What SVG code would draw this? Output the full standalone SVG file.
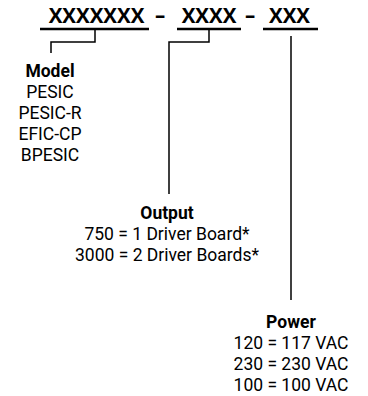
<svg xmlns="http://www.w3.org/2000/svg" width="368" height="396" viewBox="0 0 368 396">
<style>
.code{font-family:"Open Sans","Noto Sans",sans-serif;font-weight:bold;font-size:20.5px;fill:#000;text-anchor:middle}
.ul{stroke:#000;stroke-width:2.5;fill:none}
.conn{stroke:#000;stroke-width:1.5;fill:none}
.lbl{font-family:Roboto,"Liberation Sans",sans-serif;font-size:17.5px;fill:#000;text-anchor:middle}
.ttl{font-weight:bold}
</style>
<rect width="368" height="396" fill="#fff"/>
<g id="code">
<text class="code" x="96.5" y="23">XXXXXXX</text>
<line class="ul" x1="40" y1="29" x2="149" y2="29"/>
<text class="code" x="160" y="23">–</text>
<text class="code" x="209" y="23">XXXX</text>
<line class="ul" x1="177" y1="29" x2="241" y2="29"/>
<text class="code" x="250" y="23">–</text>
<text class="code" x="289.5" y="23">XXX</text>
<line class="ul" x1="263" y1="29" x2="318" y2="29"/>
</g>
<g id="connectors">
<polyline class="conn" points="95,29 95,42 51,42 51,53"/>
<polyline class="conn" points="209,29 209,42 169,42 169,194"/>
<line class="conn" x1="291" y1="36" x2="291" y2="300"/>
</g>
<g id="model">
<text class="lbl ttl" x="50" y="77">Model</text>
<text class="lbl" x="50" y="98">PESIC</text>
<text class="lbl" x="50" y="119">PESIC-R</text>
<text class="lbl" x="50" y="140">EFIC-CP</text>
<text class="lbl" x="50" y="161">BPESIC</text>
</g>
<g id="output">
<text class="lbl ttl" x="167" y="219">Output</text>
<text class="lbl" x="167" y="240">750 = 1 Driver Board*</text>
<text class="lbl" x="167" y="261">3000 = 2 Driver Boards*</text>
</g>
<g id="power">
<text class="lbl ttl" x="291" y="328">Power</text>
<text class="lbl" x="291" y="349">120 = 117 VAC</text>
<text class="lbl" x="291" y="370">230 = 230 VAC</text>
<text class="lbl" x="291" y="391">100 = 100 VAC</text>
</g>
</svg>
